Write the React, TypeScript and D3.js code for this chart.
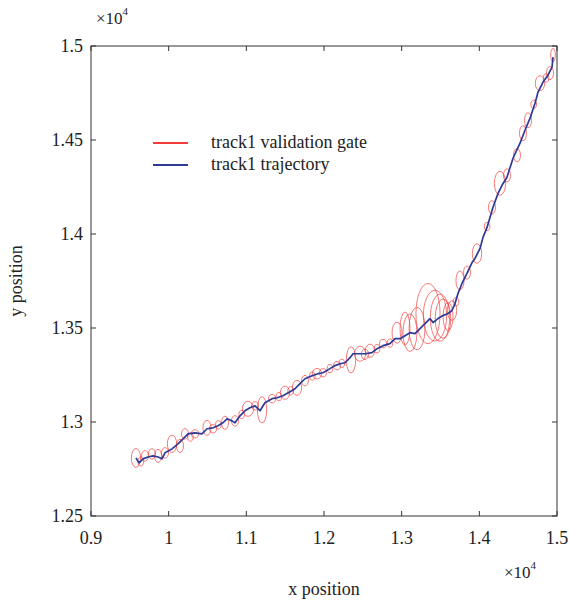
import React, { useEffect, useRef } from 'react';
import * as d3 from 'd3';

// Trajectory samples (raw units, axis shows x10^4)
const trackX = [
  9579, 9618, 9670, 9734, 9798, 9863, 9914, 9953, 10043, 10120, 10185, 10249, 10339, 10429,
  10494, 10571, 10635, 10700, 10751, 10816, 10854, 10919, 10983, 11047, 11112, 11176, 11240,
  11331, 11395, 11472, 11562, 11627, 11691, 11755, 11846, 11923, 11987, 12077, 12142, 12206,
  12271, 12335, 12374, 12438, 12528, 12618, 12683, 12760, 12850, 12914, 12979, 13043, 13107,
  13172, 13236, 13301, 13365, 13404, 13468, 13532, 13597, 13648, 13687, 13725, 13777, 13841,
  13906, 13944, 14009, 14047, 14099, 14137, 14176, 14241, 14292, 14356, 14434, 14524, 14588,
  14653, 14717, 14756, 14820, 14884, 14936, 14949,
];
const trackY = [
  12809, 12783, 12804, 12814, 12820, 12814, 12804, 12836, 12857, 12884, 12910, 12937, 12942, 12937,
  12964, 12969, 12980, 12996, 13017, 13006, 12996, 13033, 13060, 13076, 13086, 13060, 13102,
  13124, 13129, 13140, 13161, 13177, 13204, 13230, 13246, 13257, 13262, 13284, 13300, 13310,
  13315, 13342, 13363, 13363, 13363, 13369, 13390, 13406, 13417, 13443, 13443, 13459, 13475,
  13470, 13497, 13523, 13550, 13529, 13550, 13566, 13577, 13593, 13630, 13683, 13737, 13790,
  13848, 13870, 13923, 13982, 14035, 14088, 14142, 14216, 14259, 14302, 14403, 14483, 14552,
  14616, 14696, 14755, 14808, 14845, 14888, 14941,
];

// Validation gates: centre and semi-axes
const gateX = [
  9579, 9640, 9695, 9785, 9863, 9953, 10043, 10146, 10210, 10280, 10339, 10494, 10571, 10640,
  10725, 10854, 10940, 11021, 11112, 11202, 11331, 11420, 11498, 11570, 11652, 11755, 11850,
  11910, 11987, 12077, 12168, 12230, 12348, 12464, 12528, 12592, 12683, 12760, 12850, 12940,
  13043, 13107, 13198, 13339, 13429, 13494, 13532, 13597, 13648, 13700, 13751, 13841, 13970,
  14100, 14163, 14266, 14356, 14485, 14562, 14627, 14700, 14781, 14860, 14910, 14949,
];
const gateY = [
  12809, 12790, 12820, 12830, 12820, 12836, 12884, 12873, 12937, 12920, 12937, 12969, 12964, 12985,
  12996, 13006, 13040, 13070, 13086, 13065, 13124, 13135, 13156, 13166, 13182, 13220, 13245,
  13257, 13262, 13284, 13300, 13312, 13331, 13363, 13360, 13379, 13390, 13417, 13420, 13475,
  13497, 13475, 13497, 13577, 13566, 13555, 13550, 13561, 13593, 13640, 13753, 13795, 13896,
  14040, 14142, 14270, 14312, 14419, 14536, 14605, 14690, 14802, 14830, 14856, 14952,
];
const gateRx = [
  60, 36, 45, 45, 45, 45, 60, 45, 45, 36, 45, 52, 45, 36,
  45, 45, 36, 72, 45, 60, 45, 36, 60, 36, 60, 45, 36,
  60, 45, 36, 45, 36, 60, 72, 46, 60, 36, 45, 36, 64,
  64, 90, 103, 155, 150, 125, 100, 64, 60, 36, 52, 45, 60,
  36, 45, 72, 45, 45, 45, 45, 36, 60, 36, 45, 30,
];
const gateRy = [
  50, 24, 28, 28, 35, 28, 46, 35, 28, 22, 22, 40, 22, 22,
  35, 28, 22, 40, 22, 70, 22, 22, 35, 22, 40, 28, 22,
  28, 22, 22, 22, 22, 70, 40, 28, 35, 22, 22, 22, 56,
  88, 100, 112, 160, 135, 125, 105, 75, 52, 22, 50, 35, 52,
  22, 35, 64, 35, 35, 40, 40, 22, 40, 22, 35, 35,
];

const xTicks = [9000, 10000, 11000, 12000, 13000, 14000, 15000];
const yTicks = [12500, 13000, 13500, 14000, 14500, 15000];

const legendItems = [
  { label: 'track1 validation gate', color: '#f23a3a' },
  { label: 'track1 trajectory', color: '#2e3a96' },
];

const FONT = '"Liberation Serif", "DejaVu Serif", serif';

const App: React.FC = () => {
  const svgRef = useRef<SVGSVGElement>(null);

  useEffect(() => {
    document.body.style.margin = '0';
    if (!svgRef.current) return;
    const svg = d3.select(svgRef.current);
    svg.selectAll('*').remove();

    const left = 91, right = 557, top = 46, bottom = 516;
    const x = d3.scaleLinear().domain([9000, 15000]).range([left, right]);
    const y = d3.scaleLinear().domain([12500, 15000]).range([bottom, top]);
    const fmt = (v: number) => String(+(v / 1e4).toFixed(2));

    svg.append('rect').attr('width', 569).attr('height', 600).attr('fill', '#fff');

    // gates
    const plot = svg.append('g');
    gateX.forEach((gx, i) => {
      plot.append('ellipse')
        .attr('cx', x(gx))
        .attr('cy', y(gateY[i]))
        .attr('rx', x(gx + gateRx[i]) - x(gx))
        .attr('ry', y(gateY[i]) - y(gateY[i] + gateRy[i]))
        .attr('fill', 'none')
        .attr('stroke', '#f23a3a')
        .attr('stroke-opacity', 0.85)
        .attr('stroke-width', 0.8);
    });

    // trajectory
    const line = d3.line<number>()
      .x((d, i) => x(trackX[i]))
      .y((d) => y(d));
    plot.append('path')
      .attr('d', line(trackY))
      .attr('fill', 'none')
      .attr('stroke', '#2e3a96')
      .attr('stroke-width', 1.7)
      .attr('stroke-linejoin', 'round');

    // frame
    svg.append('rect')
      .attr('x', left).attr('y', top)
      .attr('width', right - left).attr('height', bottom - top)
      .attr('fill', 'none').attr('stroke', '#333').attr('stroke-width', 1);

    const tickLen = 5;
    xTicks.forEach((t) => {
      const px = x(t);
      svg.append('line').attr('x1', px).attr('x2', px).attr('y1', bottom).attr('y2', bottom - tickLen).attr('stroke', '#333');
      svg.append('line').attr('x1', px).attr('x2', px).attr('y1', top).attr('y2', top + tickLen).attr('stroke', '#333');
      svg.append('text')
        .attr('x', px).attr('y', bottom + 28)
        .attr('text-anchor', 'middle')
        .attr('font-family', FONT).attr('font-size', '18px').attr('fill', '#222')
        .text(fmt(t));
    });
    yTicks.forEach((t) => {
      const py = y(t);
      svg.append('line').attr('x1', left).attr('x2', left + tickLen).attr('y1', py).attr('y2', py).attr('stroke', '#333');
      svg.append('line').attr('x1', right).attr('x2', right - tickLen).attr('y1', py).attr('y2', py).attr('stroke', '#333');
      svg.append('text')
        .attr('x', left - 8).attr('y', py + 6)
        .attr('text-anchor', 'end')
        .attr('font-family', FONT).attr('font-size', '18px').attr('fill', '#222')
        .text(fmt(t));
    });

    // exponent labels
    const expo = (ex: number, ey: number) => {
      const t = svg.append('text')
        .attr('x', ex).attr('y', ey)
        .attr('font-family', FONT).attr('font-size', '17px').attr('fill', '#222');
      t.append('tspan').text('×10');
      t.append('tspan').attr('dy', -9).attr('font-size', '11px').text('4');
    };
    expo(96, 24);
    expo(504, 578);

    // axis titles
    svg.append('text')
      .attr('x', (left + right) / 2).attr('y', 595)
      .attr('text-anchor', 'middle')
      .attr('font-family', FONT).attr('font-size', '18px').attr('fill', '#222')
      .text('x position');
    svg.append('text')
      .attr('transform', `translate(22,${(top + bottom) / 2}) rotate(-90)`)
      .attr('text-anchor', 'middle')
      .attr('font-family', FONT).attr('font-size', '18px').attr('fill', '#222')
      .text('y position');

    // legend
    legendItems.forEach((item, i) => {
      const ly = 143 + i * 22;
      svg.append('line')
        .attr('x1', 153).attr('x2', 188).attr('y1', ly).attr('y2', ly)
        .attr('stroke', item.color).attr('stroke-width', 2);
      svg.append('text')
        .attr('x', 211).attr('y', ly + 5)
        .attr('font-family', FONT).attr('font-size', '18px').attr('fill', '#222')
        .text(item.label);
    });
  }, []);

  return <svg ref={svgRef} width={569} height={600} style={{ display: 'block' }} />;
};

export default App;
